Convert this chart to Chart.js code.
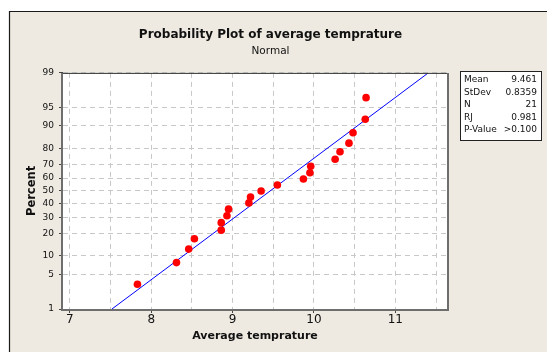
<!DOCTYPE html>
<html><head><meta charset="utf-8">
<script src="https://cdn.jsdelivr.net/npm/chart.js@4/dist/chart.umd.min.js"></script>
<style>html,body{margin:0;padding:0;background:#fff;}canvas{display:block}</style>
</head><body>
<canvas id="c" width="547" height="352"></canvas>
<script>
// ---- data ----
const temperature = [7.83, 8.31, 8.46, 8.53, 8.86, 8.86, 8.93, 8.95, 9.20, 9.22, 9.35, 9.55, 9.87, 9.95, 9.96, 10.26, 10.32, 10.43, 10.48, 10.63, 10.64];
const percent = [3.3, 7.9, 12.6, 17.3, 22.0, 26.6, 31.3, 36.0, 40.7, 45.3, 50.0, 54.7, 59.3, 64.0, 68.7, 73.4, 78.0, 82.7, 87.4, 92.1, 96.7];
const fitLineX = [7.517, 11.405];
const fitLinePercent = [1, 99];
const yTickPercents = [1, 5, 10, 20, 30, 40, 50, 60, 70, 80, 90, 95, 99];
const xTickValues = [7, 7.5, 8, 8.5, 9, 9.5, 10, 10.5, 11, 11.5];
const statLabels = ['Mean', 'StDev', 'N', 'RJ', 'P-Value'];
const statValues = ['9.461', '0.8359', '21', '0.981', '>0.100'];
const titleText = 'Probability Plot of average temprature';
const subtitleText = 'Normal';
const xTitle = 'Average temprature';
const yTitle = 'Percent';

const FONT = 'Tahoma, "DejaVu Sans", sans-serif';

// inverse normal CDF (Acklam)
function probit(p) {
  const a = [-3.969683028665376e+01, 2.209460984245205e+02, -2.759285104469687e+02, 1.383577518672690e+02, -3.066479806614716e+01, 2.506628277459239e+00];
  const b = [-5.447609879822406e+01, 1.615858368580409e+02, -1.556989798598866e+02, 6.680131188771972e+01, -1.328068155288572e+01];
  const c = [-7.784894002430293e-03, -3.223964580411365e-01, -2.400758277161838e+00, -2.549732539343734e+00, 4.374664141464968e+00, 2.938163982698783e+00];
  const d = [7.784695709041462e-03, 3.224671290700398e-01, 2.445134137624368e+00, 3.754408661907416e+00];
  const pl = 0.02425;
  let q, r;
  if (p < pl) {
    q = Math.sqrt(-2 * Math.log(p));
    return (((((c[0]*q+c[1])*q+c[2])*q+c[3])*q+c[4])*q+c[5]) / ((((d[0]*q+d[1])*q+d[2])*q+d[3])*q+1);
  } else if (p <= 1 - pl) {
    q = p - 0.5; r = q * q;
    return (((((a[0]*r+a[1])*r+a[2])*r+a[3])*r+a[4])*r+a[5])*q / (((((b[0]*r+b[1])*r+b[2])*r+b[3])*r+b[4])*r+1);
  } else {
    q = Math.sqrt(-2 * Math.log(1 - p));
    return -(((((c[0]*q+c[1])*q+c[2])*q+c[3])*q+c[4])*q+c[5]) / ((((d[0]*q+d[1])*q+d[2])*q+d[3])*q+1);
  }
}
function normCdf(z) {
  const t = 1 / (1 + 0.2316419 * Math.abs(z));
  const dd = 0.3989423 * Math.exp(-z * z / 2);
  let p = dd * t * (0.3193815 + t * (-0.3565638 + t * (1.781478 + t * (-1.821256 + t * 1.330274))));
  return z > 0 ? 1 - p : p;
}

// normal probability scale
class ProbScale extends Chart.LinearScale {
  determineDataLimits() { this.min = this.options.min; this.max = this.options.max; }
  buildTicks() { return yTickPercents.map(v => ({ value: v })); }
  configure() {
    super.configure();
    this._zs = probit(this.min / 100);
    this._ze = probit(this.max / 100);
  }
  getPixelForValue(v) {
    return this.getPixelForDecimal((probit(v / 100) - this._zs) / (this._ze - this._zs));
  }
  getValueForPixel(px) {
    const dec = this.getDecimalForPixel(px);
    return 100 * normCdf(this._zs + dec * (this._ze - this._zs));
  }
}
ProbScale.id = 'probability';
ProbScale.defaults = {};
Chart.register(ProbScale);

const framePlugin = {
  id: 'frame',
  beforeDraw(chart) {
    const ctx = chart.ctx, a = chart.chartArea;
    ctx.save();
    ctx.fillStyle = '#ffffff';
    ctx.fillRect(0, 0, chart.width, chart.height);
    ctx.fillStyle = '#EEEAE1';
    ctx.fillRect(9, 11, chart.width - 9, chart.height - 11);
    ctx.strokeStyle = '#1a1a1a';
    ctx.lineWidth = 1.2;
    ctx.beginPath();
    ctx.moveTo(9.5, chart.height);
    ctx.lineTo(9.5, 11.5);
    ctx.lineTo(chart.width, 11.5);
    ctx.stroke();
    ctx.fillStyle = '#ffffff';
    ctx.fillRect(a.left, a.top, a.right - a.left, a.bottom - a.top);
    ctx.restore();
  },
  afterDraw(chart) {
    const ctx = chart.ctx, a = chart.chartArea;
    ctx.save();
    // plot frame
    ctx.lineWidth = 1;
    ctx.strokeStyle = '#333333';
    ctx.beginPath();
    ctx.moveTo(a.left, a.top + 0.5); ctx.lineTo(a.right, a.top + 0.5);
    ctx.stroke();
    ctx.lineWidth = 2;
    ctx.strokeStyle = '#6e6e6e';
    ctx.beginPath();
    ctx.moveTo(a.left - 1, a.top); ctx.lineTo(a.left - 1, a.bottom + 1);
    ctx.lineTo(a.right + 1, a.bottom + 1); ctx.lineTo(a.right + 1, a.top);
    ctx.stroke();
    // stats box
    const bx = 460, by = 71, bw = 81, bh = 69;
    ctx.fillStyle = '#ffffff';
    ctx.fillRect(bx, by, bw, bh);
    ctx.strokeStyle = '#222';
    ctx.lineWidth = 1;
    ctx.strokeRect(bx + 0.5, by + 0.5, bw, bh);
    ctx.fillStyle = '#111';
    ctx.font = '9px ' + FONT;
    ctx.textBaseline = 'middle';
    statLabels.forEach((l, i) => {
      const yy = by + 9 + i * 12.5;
      ctx.textAlign = 'left';
      ctx.fillText(l, bx + 4, yy);
      ctx.textAlign = 'right';
      ctx.fillText(statValues[i], bx + bw - 4, yy);
    });
    ctx.restore();
  }
};

new Chart(document.getElementById('c'), {
  type: 'scatter',
  data: {
    datasets: [
      {
        type: 'line',
        data: fitLineX.map((x, i) => ({ x: x, y: fitLinePercent[i] })),
        borderColor: '#0000ff',
        borderWidth: 1,
        pointRadius: 0,
        fill: false,
        order: 2
      },
      {
        data: temperature.map((x, i) => ({ x: x, y: percent[i] })),
        backgroundColor: '#ff0000',
        borderWidth: 0,
        pointRadius: 3.8,
        order: 1
      }
    ]
  },
  options: {
    responsive: false,
    animation: false,
    devicePixelRatio: 1,
    layout: { padding: { left: 0, right: 6, top: 0, bottom: 0 } },
    plugins: {
      legend: { display: false },
      tooltip: { enabled: false },
      title: {
        display: true, text: titleText, color: '#111',
        font: { family: FONT, size: 12, weight: 'bold' },
        padding: { top: 27.8, bottom: 2.5 }
      },
      subtitle: {
        display: true, text: subtitleText, color: '#111',
        font: { family: FONT, size: 10.5 },
        padding: { top: 0, bottom: 15.6 }
      }
    },
    scales: {
      x: {
        type: 'linear', position: 'bottom',
        min: 6.915, max: 11.635,
        afterBuildTicks: s => { s.ticks = xTickValues.map(v => ({ value: v })); },
        afterFit: s => { s.height = 43; },
        ticks: {
          autoSkip: false, maxRotation: 0, padding: 0, color: '#111',
          font: { family: FONT, size: 12 },
          callback: v => Number.isInteger(v) ? String(v) : ''
        },
        grid: {
          color: '#c8c8c8', lineWidth: 1, drawTicks: true, tickLength: 4, tickWidth: 1,
          tickColor: c => (c.tick && Number.isInteger(c.tick.value)) ? '#444' : 'rgba(0,0,0,0)'
        },
        border: { display: false, dash: [5, 4] },
        title: {
          display: true, text: xTitle, color: '#111',
          font: { family: FONT, size: 11, weight: 'bold' },
          padding: { top: 0, bottom: 9.5 }
        }
      },
      y: {
        type: 'probability', position: 'left',
        min: 1, max: 99,
        afterFit: s => { s.width = 63; },
        ticks: {
          autoSkip: false, padding: 5, color: '#111',
          font: { family: FONT, size: 9 },
          callback: v => String(v)
        },
        grid: { color: '#c8c8c8', lineWidth: 1, drawTicks: true, tickLength: 4, tickColor: '#444' },
        border: { display: false, dash: [5, 4] },
        title: {
          display: true, text: yTitle, color: '#111',
          font: { family: FONT, size: 11.5, weight: 'bold' },
          padding: { top: 25, bottom: 0 }
        }
      },
      yR: {
        type: 'linear', position: 'right', display: true,
        afterFit: s => { s.width = 94; },
        ticks: { display: false },
        grid: { display: false, drawTicks: false },
        border: { display: false }
      }
    }
  },
  plugins: [framePlugin]
});
</script>
</body></html>
